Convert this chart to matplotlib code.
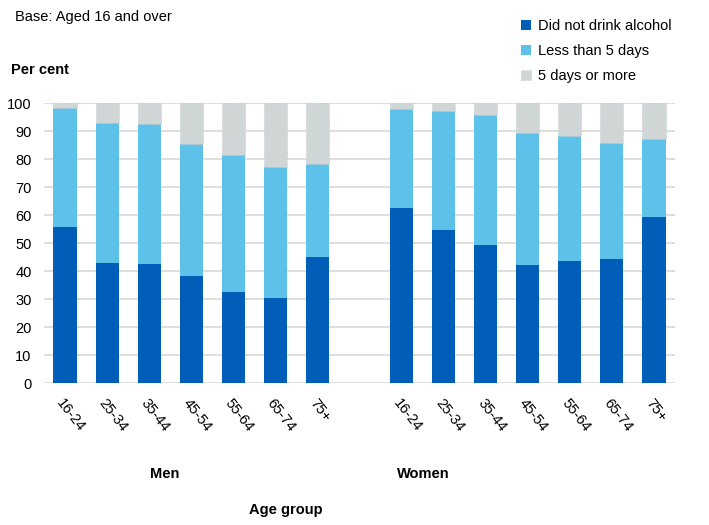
import matplotlib
matplotlib.use("Agg")
import matplotlib.pyplot as plt
import numpy as np

plt.rcParams['font.family'] = ['Liberation Sans', 'DejaVu Sans']

# data
age_groups = ['16-24', '25-34', '35-44', '45-54', '55-64', '65-74', '75+']
men_none = [55.9, 43.1, 42.7, 38.4, 32.7, 30.6, 45.2]
men_less5 = [42.5, 49.9, 49.9, 47.1, 48.8, 46.7, 33.1]
women_none = [62.7, 54.8, 49.4, 42.3, 43.7, 44.4, 59.4]
women_less5 = [35.3, 42.5, 46.4, 47.1, 44.6, 41.4, 27.9]
series_names = ['Did not drink alcohol', 'Less than 5 days', '5 days or more']

c_dark = '#005EB8'
c_light = '#5EC1EA'
c_grey = '#D0D5D6'

fig = plt.figure(figsize=(7.09, 5.25), dpi=100)
ax = fig.add_axes([44 / 709, 1 - 383.3 / 525, (675 - 44) / 709, 280 / 525])

none = np.array(men_none + women_none)
less5 = np.array(men_less5 + women_less5)
more5 = 100 - none - less5
x = np.r_[np.arange(7), np.arange(8, 15)]
w = 0.55

b1 = ax.bar(x, none, w, color=c_dark, zorder=3)
b2 = ax.bar(x, less5, w, bottom=none, color=c_light, zorder=3)
b3 = ax.bar(x, more5, w, bottom=none + less5, color=c_grey, zorder=3,
            edgecolor='#BFC4C6', linestyle=':', linewidth=0.6)

ax.set_xlim(-0.5, 14.5)
ax.set_ylim(0, 100)
ax.set_yticks(range(0, 101, 10))
ax.yaxis.grid(True, color='#D9D9D9', linewidth=1.2, zorder=0)
ax.set_axisbelow(True)
for s in ax.spines.values():
    s.set_visible(False)
ax.tick_params(axis='y', length=0, labelsize=10.5, pad=9)
ax.tick_params(axis='x', length=0, labelsize=10.5, pad=9)
ax.set_xticks(x)
ax.set_xticklabels(age_groups * 2, rotation=-52, ha='left', va='top',
                   rotation_mode='anchor')

fig.text(15 / 709, 1 - 17 / 525, 'Base: Aged 16 and over', fontsize=10.5,
         va='center', ha='left')
fig.text(11 / 709, 1 - 70 / 525, 'Per cent', fontsize=10.5, fontweight='bold',
         va='center', ha='left')
fig.text(165 / 709, 1 - 474 / 525, 'Men', fontsize=10.5, fontweight='bold',
         va='center', ha='center')
fig.text(423 / 709, 1 - 474 / 525, 'Women', fontsize=10.5, fontweight='bold',
         va='center', ha='center')
fig.text(286 / 709, 1 - 510 / 525, 'Age group', fontsize=10.5, fontweight='bold',
         va='center', ha='center')

fig.legend([b1, b2, b3], series_names, loc='upper left',
           bbox_to_anchor=(508 / 709, 1 - 6 / 525), frameon=False,
           fontsize=10.5, handlelength=0.7, handleheight=0.7,
           handletextpad=0.45, labelspacing=0.75)

fig.savefig('out.png', dpi=100)
